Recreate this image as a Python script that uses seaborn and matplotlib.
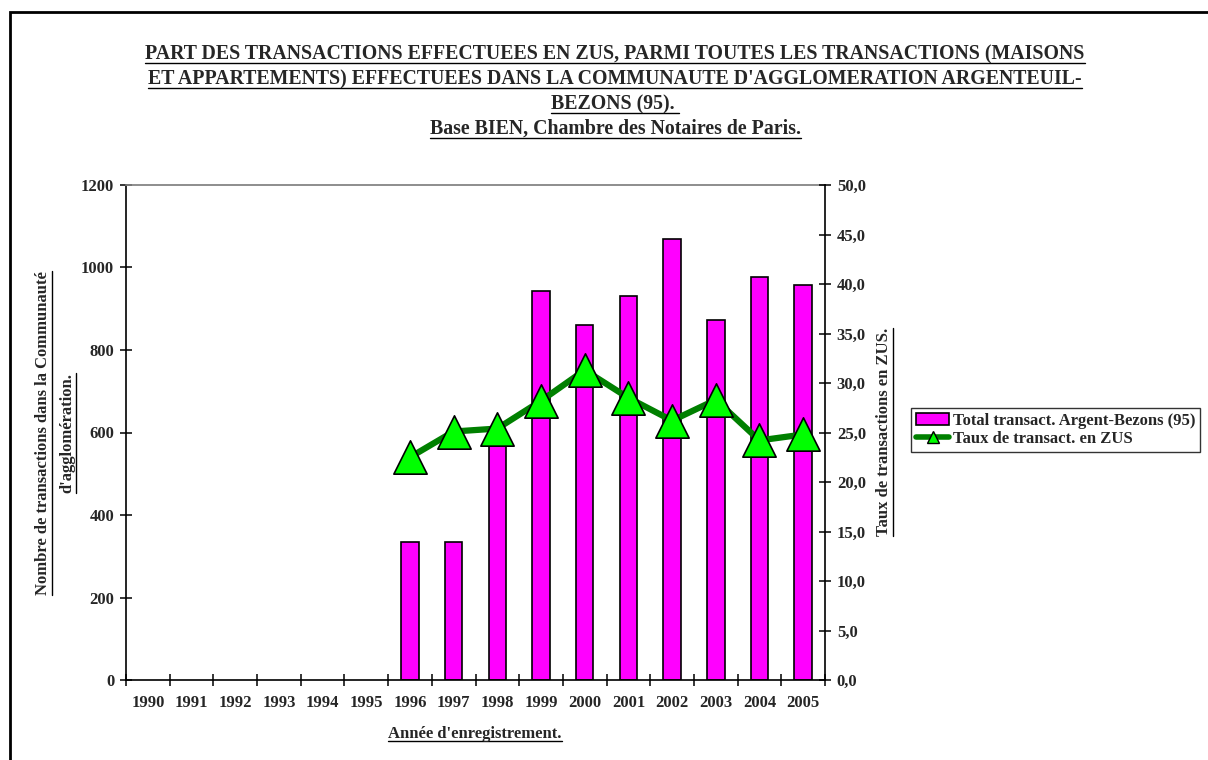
import numpy as np
import pandas as pd
import matplotlib
matplotlib.use("Agg")
import matplotlib.pyplot as plt
from matplotlib.lines import Line2D
from matplotlib.patches import Patch, Rectangle
import seaborn as sns

# Data
years = [str(y) for y in range(1990, 2006)]
bar_years = ["1996", "1997", "1998", "1999", "2000", "2001", "2002", "2003", "2004", "2005"]
total_transactions = [334, 334, 600, 944, 860, 932, 1069, 873, 976, 958]
zus_rate = [22.5, 25.1, 25.4, 28.2, 31.3, 28.5, 26.2, 28.3, 24.2, 24.8]

title_lines = [
    "PART DES TRANSACTIONS EFFECTUEES EN ZUS, PARMI TOUTES LES TRANSACTIONS (MAISONS",
    "ET APPARTEMENTS) EFFECTUEES DANS LA COMMUNAUTE D'AGGLOMERATION ARGENTEUIL-",
    "BEZONS (95). ",
    "Base BIEN, Chambre des Notaires de Paris.",
]
left_label = ["Nombre de transactions dans la Communauté", "d'agglomération."]
right_label = "Taux de transactions en ZUS."
x_label = "Année d'enregistrement."
legend_labels = ["Total transact. Argent-Bezons (95)", "Taux de transact. en ZUS"]

sns.set_theme(style="white")
plt.rcParams["font.family"] = ["Liberation Serif", "DejaVu Serif"]
plt.rcParams["font.weight"] = "bold"

W, H = 1208, 760
fig = plt.figure(figsize=(W / 100, H / 100), dpi=100)
fig.patch.set_facecolor("white")

# Chart frame
fig.patches.append(Rectangle((10 / W, -0.1), 1.2, (H - 12) / H + 0.1,
                             transform=fig.transFigure, fill=False,
                             edgecolor="black", linewidth=2))

ax = fig.add_axes([126 / W, 1 - 680 / H, (825 - 126) / W, (680 - 185) / H])

bars_df = pd.DataFrame({"year": bar_years, "total": total_transactions})
sns.barplot(data=bars_df, x="year", y="total", order=years, ax=ax,
            color="#FF00FF", saturation=1, width=0.4,
            edgecolor="black", linewidth=1.2)

ax.set_ylim(0, 1200)
ax.set_yticks(range(0, 1201, 200))
ax.set_xlim(-0.5, len(years) - 0.5)

ax2 = ax.twinx()
pos = [years.index(y) for y in bar_years]
ax2.plot(pos, zus_rate, color="#008000", linewidth=4.5, zorder=3)
sns.scatterplot(x=pos, y=zus_rate, ax=ax2, marker="^", s=24 ** 2,
                color="#00FF00", edgecolor="black", linewidth=1.2, zorder=4,
                legend=False)
ax2.set_ylim(0, 50)
ax2.set_yticks(np.arange(0, 50.1, 5))
ax2.set_yticklabels([f"{v:.1f}".replace(".", ",") for v in np.arange(0, 50.1, 5)])
ax2.set_xlim(-0.5, len(years) - 0.5)

for a in (ax, ax2):
    a.set_xlabel("")
    a.set_ylabel("")
    for s in a.spines.values():
        s.set_visible(False)

ax.spines["left"].set_visible(True)
ax.spines["bottom"].set_visible(True)
ax.spines["top"].set_visible(True)
ax.spines["top"].set_color("#808080")
ax2.spines["right"].set_visible(True)
for s in (ax.spines["left"], ax.spines["bottom"], ax2.spines["right"]):
    s.set_color("black")
    s.set_linewidth(1.2)

FS = 12
ax.set_xticks(range(len(years)))
ax.set_xticklabels(years)
ax.set_xticks(np.arange(-0.5, len(years), 1.0), minor=True)
ax.tick_params(axis="x", which="major", length=0, pad=11, labelsize=FS)
ax.tick_params(axis="x", which="minor", direction="inout", length=9, width=1.1,
               color="black", bottom=True)
ax.tick_params(axis="y", direction="inout", length=9, width=1.1, color="black",
               left=True, labelsize=FS, pad=4)
ax2.tick_params(axis="y", direction="inout", length=9, width=1.1, color="black",
                right=True, labelsize=FS, pad=4)
for lbl in ax.get_xticklabels() + ax.get_yticklabels() + ax2.get_yticklabels():
    lbl.set_fontweight("bold")

# Texts
title_y = [54, 79, 104, 129]
title_texts = [fig.text(615 / W, 1 - y / H, t, ha="center", va="center",
                        fontsize=14.3, fontweight="bold")
               for t, y in zip(title_lines, title_y)]
ll1 = fig.text(43 / W, 1 - 433 / H, left_label[0], rotation=90, ha="center",
               va="center", fontsize=FS, fontweight="bold")
ll2 = fig.text(67 / W, 1 - 433 / H, left_label[1], rotation=90, ha="center",
               va="center", fontsize=FS, fontweight="bold")
rl = fig.text(884 / W, 1 - 432 / H, right_label, rotation=90, ha="center",
              va="center", fontsize=FS, fontweight="bold")
xl = fig.text(475 / W, 1 - 734 / H, x_label, ha="center", va="center",
              fontsize=FS, fontweight="bold")

# Legend
handles = [
    Patch(facecolor="#FF00FF", edgecolor="black", linewidth=1.2),
    Line2D([0], [0], color="#008000", linewidth=4, marker="^", markersize=9,
           markerfacecolor="#00FF00", markeredgecolor="black"),
]
leg = fig.legend(handles, legend_labels, loc="center left",
                 bbox_to_anchor=(911 / W, 1 - 430 / H), frameon=True,
                 fancybox=False, edgecolor="black", fontsize=FS,
                 handlelength=2.0, handletextpad=0.2, borderpad=0.3,
                 labelspacing=0.15, borderaxespad=0)
leg.get_frame().set_linewidth(1.0)
for t in leg.get_texts():
    t.set_fontweight("bold")

# Underline text items
fig.canvas.draw()
renderer = fig.canvas.get_renderer()
inv = fig.transFigure.inverted()


def underline(txt, vertical=False):
    bb = txt.get_window_extent(renderer)
    if vertical:
        x = bb.x1 + 0.5
        p0 = inv.transform((x, bb.y0))
        p1 = inv.transform((x, bb.y1))
    else:
        y = bb.y0 + 1.5
        p0 = inv.transform((bb.x0, y))
        p1 = inv.transform((bb.x1, y))
    fig.add_artist(Line2D([p0[0], p1[0]], [p0[1], p1[1]], color="black",
                          linewidth=1.0, transform=fig.transFigure))


for t in title_texts:
    underline(t)
underline(xl)
underline(ll1, vertical=True)
underline(ll2, vertical=True)
underline(rl, vertical=True)

fig.savefig("out.png", dpi=100, facecolor="white")
